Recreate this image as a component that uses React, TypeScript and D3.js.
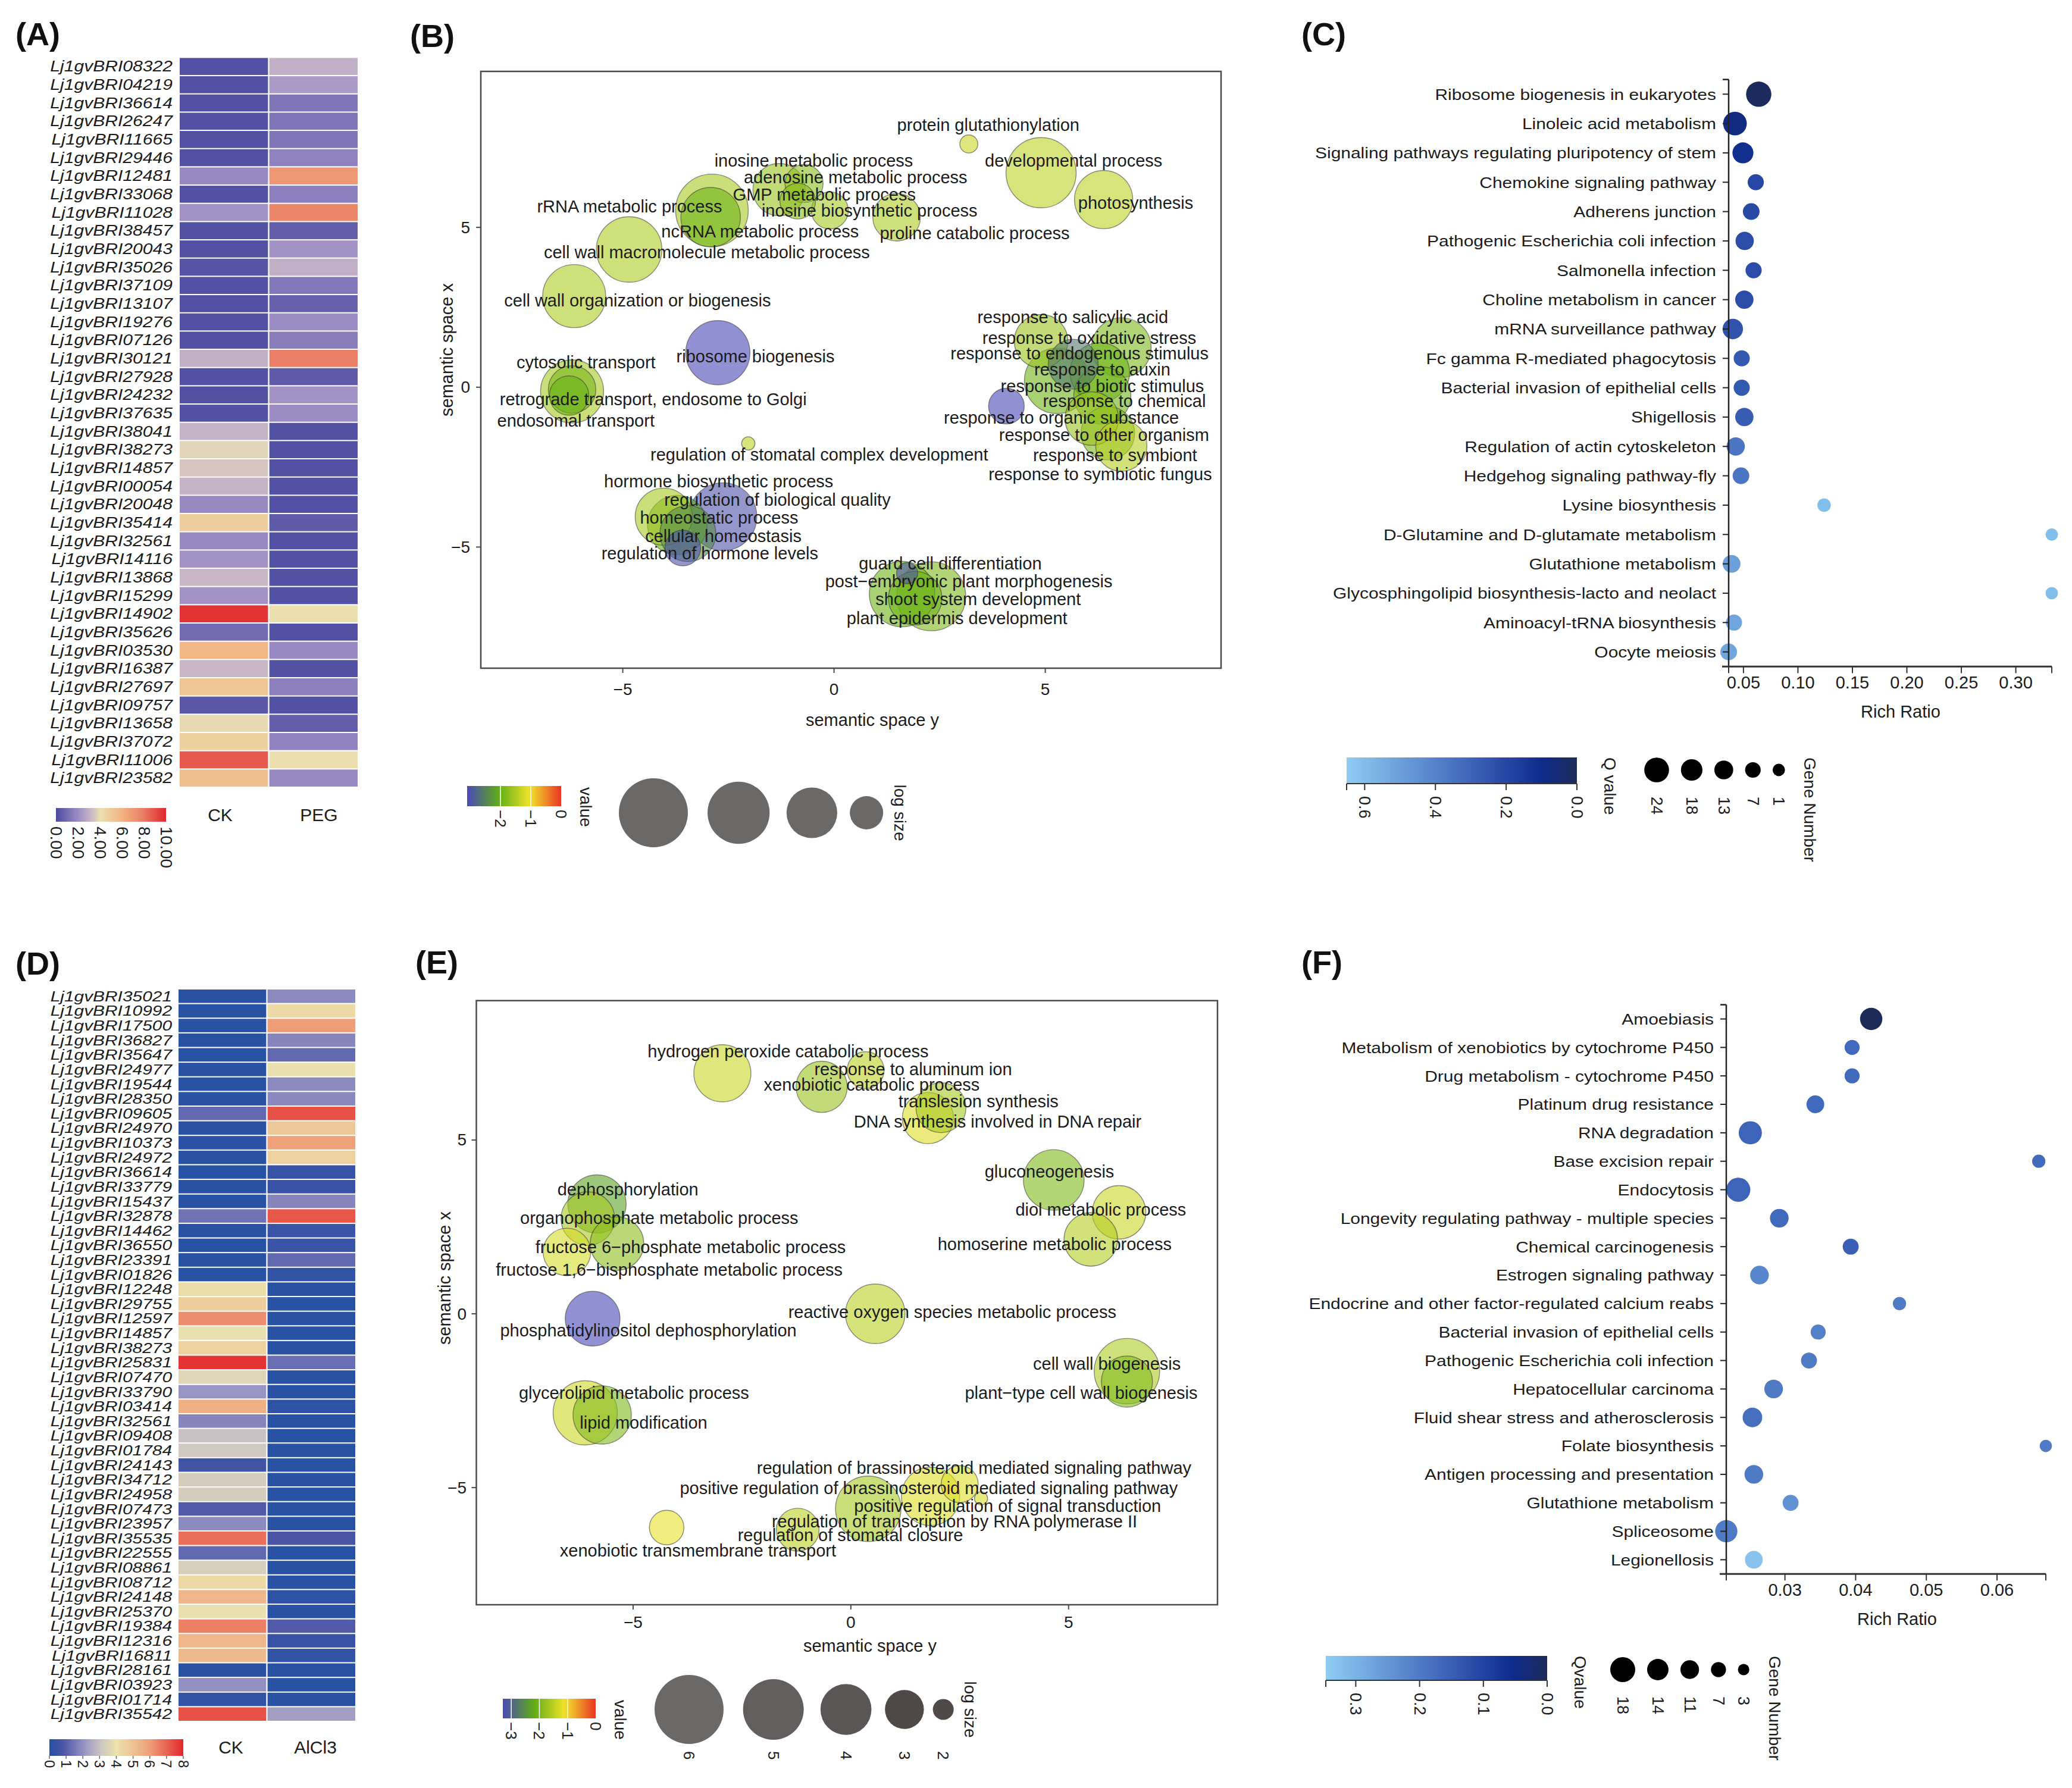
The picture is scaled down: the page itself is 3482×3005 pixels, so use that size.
import React from 'react';
import * as d3 from 'd3';

const FONT = "'Liberation Sans', Arial, Helvetica, sans-serif";
const INK = '#1b1b1b';

// ---------- (A) heatmap, CK vs PEG
const genesA = ['Lj1gvBRI08322', 'Lj1gvBRI04219', 'Lj1gvBRI36614', 'Lj1gvBRI26247', 'Lj1gvBRI11665', 'Lj1gvBRI29446', 'Lj1gvBRI12481', 'Lj1gvBRI33068', 'Lj1gvBRI11028', 'Lj1gvBRI38457', 'Lj1gvBRI20043', 'Lj1gvBRI35026', 'Lj1gvBRI37109', 'Lj1gvBRI13107', 'Lj1gvBRI19276', 'Lj1gvBRI07126', 'Lj1gvBRI30121', 'Lj1gvBRI27928', 'Lj1gvBRI24232', 'Lj1gvBRI37635', 'Lj1gvBRI38041', 'Lj1gvBRI38273', 'Lj1gvBRI14857', 'Lj1gvBRI00054', 'Lj1gvBRI20048', 'Lj1gvBRI35414', 'Lj1gvBRI32561', 'Lj1gvBRI14116', 'Lj1gvBRI13868', 'Lj1gvBRI15299', 'Lj1gvBRI14902', 'Lj1gvBRI35626', 'Lj1gvBRI03530', 'Lj1gvBRI16387', 'Lj1gvBRI27697', 'Lj1gvBRI09757', 'Lj1gvBRI13658', 'Lj1gvBRI37072', 'Lj1gvBRI11006', 'Lj1gvBRI23582'];
const ckA = [0.2, 0.2, 0.2, 0.2, 0.2, 0.2, 1.9, 0.2, 2.2, 0.2, 0.2, 0.3, 0.2, 0.2, 0.2, 0.2, 3.0, 0.2, 0.2, 0.2, 3.1, 3.8, 3.5, 3.1, 1.9, 4.8, 1.9, 2.2, 3.2, 2.2, 9.7, 1.0, 5.9, 3.2, 5.2, 0.4, 3.9, 4.7, 8.8, 5.5];
const pegA = [3.0, 2.4, 1.3, 1.3, 1.3, 1.7, 7.0, 1.6, 7.6, 0.6, 2.2, 3.0, 1.4, 0.7, 2.0, 1.5, 7.9, 0.5, 2.2, 2.0, 0.2, 0.2, 0.2, 0.2, 0.2, 0.5, 0.2, 0.2, 0.2, 0.2, 4.0, 0.2, 1.9, 0.2, 1.6, 0.2, 0.6, 1.7, 4.0, 1.9];
const heatTicksA = [0, 2, 4, 6, 8, 10];

// ---------- (D) heatmap, CK vs AlCl3
const genesD = ['Lj1gvBRI35021', 'Lj1gvBRI10992', 'Lj1gvBRI17500', 'Lj1gvBRI36827', 'Lj1gvBRI35647', 'Lj1gvBRI24977', 'Lj1gvBRI19544', 'Lj1gvBRI28350', 'Lj1gvBRI09605', 'Lj1gvBRI24970', 'Lj1gvBRI10373', 'Lj1gvBRI24972', 'Lj1gvBRI36614', 'Lj1gvBRI33779', 'Lj1gvBRI15437', 'Lj1gvBRI32878', 'Lj1gvBRI14462', 'Lj1gvBRI36550', 'Lj1gvBRI23391', 'Lj1gvBRI01826', 'Lj1gvBRI12248', 'Lj1gvBRI29755', 'Lj1gvBRI12597', 'Lj1gvBRI14857', 'Lj1gvBRI38273', 'Lj1gvBRI25831', 'Lj1gvBRI07470', 'Lj1gvBRI33790', 'Lj1gvBRI03414', 'Lj1gvBRI32561', 'Lj1gvBRI09408', 'Lj1gvBRI01784', 'Lj1gvBRI24143', 'Lj1gvBRI34712', 'Lj1gvBRI24958', 'Lj1gvBRI07473', 'Lj1gvBRI23957', 'Lj1gvBRI35535', 'Lj1gvBRI22555', 'Lj1gvBRI08861', 'Lj1gvBRI08712', 'Lj1gvBRI24148', 'Lj1gvBRI25370', 'Lj1gvBRI19384', 'Lj1gvBRI12316', 'Lj1gvBRI16811', 'Lj1gvBRI28161', 'Lj1gvBRI03923', 'Lj1gvBRI01714', 'Lj1gvBRI35542'];
const ckD = [0.1, 0.1, 0.1, 0.1, 0.1, 0.1, 0.1, 0.1, 1.2, 0.1, 0.15, 0.1, 0.1, 0.1, 0.1, 1.4, 0.1, 0.1, 0.1, 0.1, 4.2, 4.6, 6.3, 3.9, 4.5, 7.8, 3.6, 2.1, 5.5, 1.8, 3.0, 3.2, 0.6, 3.3, 3.3, 0.9, 1.9, 6.8, 1.2, 3.4, 4.3, 5.3, 3.9, 6.5, 5.3, 5.2, 0.1, 2.0, 0.3, 7.3];
const alD = [1.9, 4.3, 6.0, 1.8, 1.2, 3.9, 1.9, 1.85, 7.3, 4.8, 5.9, 4.5, 0.4, 0.4, 1.8, 7.2, 0.5, 0.5, 1.2, 0.3, 0.1, 0.1, 0.1, 0.1, 0.1, 1.3, 0.1, 0.1, 0.2, 0.1, 0.1, 0.1, 0.1, 0.1, 0.1, 0.1, 0.1, 0.8, 0.1, 0.1, 0.1, 0.2, 0.1, 0.9, 0.4, 0.3, 0.1, 0.1, 0.1, 2.3];
const heatTicksD = [0, 1, 2, 3, 4, 5, 6, 7, 8];

// ---------- (B) REVIGO bubbles, PEG
const termsB = ['protein glutathionylation', 'developmental process', 'photosynthesis', 'rRNA metabolic process', 'ncRNA metabolic process', 'inosine metabolic process', 'adenosine metabolic process', 'GMP metabolic process', 'inosine biosynthetic process', 'proline catabolic process', 'cell wall macromolecule metabolic process', 'cell wall organization or biogenesis', 'ribosome biogenesis', 'cytosolic transport', 'retrograde transport, endosome to Golgi', 'endosomal transport', 'regulation of stomatal complex development', 'hormone biosynthetic process', 'regulation of biological quality', 'homeostatic process', 'cellular homeostasis', 'regulation of hormone levels', 'response to salicylic acid', 'response to oxidative stress', 'response to endogenous stimulus', 'response to auxin', 'response to biotic stimulus', 'response to chemical', 'response to organic substance', 'response to other organism', 'response to symbiont', 'response to symbiotic fungus', 'guard cell differentiation', 'post\u2212embryonic plant morphogenesis', 'shoot system development', 'plant epidermis development'];
const xB = [3.19, 4.90, 6.38, -2.89, -2.92, -1.30, -0.71, -0.86, -0.10, 1.48, -4.85, -6.15, -2.75, -6.20, -6.20, -6.27, -2.03, -4.03, -2.63, -3.71, -3.46, -3.58, 4.90, 6.80, 5.66, 6.29, 5.28, 6.35, 4.08, 6.48, 6.80, 6.10, 1.73, 1.61, 2.30, 1.92];
const yB = [7.61, 6.71, 5.87, 5.53, 5.32, 6.18, 6.37, 5.82, 5.53, 5.32, 4.31, 2.85, 1.08, -0.13, -0.07, -0.26, -1.76, -4.05, -4.05, -4.31, -4.58, -5.03, 1.44, 1.24, 0.72, 0.46, 0.20, -0.26, -0.59, -1.44, -1.83, -0.98, -5.82, -6.47, -6.54, -6.60];
const sizeB = [1.57, 4.09, 3.25, 4.28, 3.33, 2.89, 2.19, 2.09, 2.14, 2.63, 3.74, 3.57, 3.65, 3.57, 2.63, 2.24, 1.49, 3.18, 3.91, 3.33, 3.10, 2.09, 2.96, 3.33, 2.76, 3.33, 3.74, 3.18, 2.09, 2.96, 2.83, 2.96, 1.64, 3.74, 4.0, 2.96];
const valueB = [-1.3, -1.4, -1.4, -1.55, -1.95, -1.65, -1.75, -1.75, -1.55, -1.5, -1.5, -1.5, -3.1, -1.55, -1.9, -2.0, -1.4, -1.55, -3.0, -2.05, -2.4, -3.0, -1.65, -1.85, -2.6, -1.95, -1.95, -1.95, -3.1, -1.85, -1.45, -1.65, -3.0, -1.95, -1.85, -1.95];
const labelXB = [3.65, 5.67, 7.14, -4.84, -1.75, -0.48, 0.51, -0.23, 0.84, 3.33, -3.01, -4.65, -1.86, -5.87, -4.28, -6.11, -0.35, -2.73, -1.34, -2.72, -2.62, -2.94, 5.65, 6.04, 5.81, 6.35, 6.35, 6.87, 5.38, 6.39, 6.65, 6.30, 2.75, 3.19, 3.41, 2.91];
const labelYB = [8.21, 7.08, 5.76, 5.65, 4.88, 7.08, 6.56, 6.03, 5.52, 4.81, 4.22, 2.72, 0.97, 0.77, -0.38, -1.05, -2.10, -2.94, -3.53, -4.08, -4.65, -5.20, 2.20, 1.54, 1.05, 0.55, 0.04, -0.44, -0.95, -1.50, -2.12, -2.72, -5.52, -6.08, -6.64, -7.22];
const legendSizeB = [4, 3.5, 2.8, 2];
const valueTicksB = [-2, -1, 0];

// ---------- (E) REVIGO bubbles, AlCl3
const termsE = ['hydrogen peroxide catabolic process', 'response to aluminum ion', 'xenobiotic catabolic process', 'translesion synthesis', 'DNA synthesis involved in DNA repair', 'gluconeogenesis', 'diol metabolic process', 'homoserine metabolic process', 'dephosphorylation', 'organophosphate metabolic process', 'fructose 6\u2212phosphate metabolic process', 'fructose 1,6\u2212bisphosphate metabolic process', 'phosphatidylinositol dephosphorylation', 'reactive oxygen species metabolic process', 'glycerolipid metabolic process', 'lipid modification', 'cell wall biogenesis', 'plant\u2212type cell wall biogenesis', 'xenobiotic transmembrane transport', 'regulation of stomatal closure', 'regulation of transcription by RNA polymerase II', 'positive regulation of signal transduction', 'regulation of brassinosteroid mediated signaling pathway', 'positive regulation of brassinosteroid mediated signaling pathway'];
const xE = [-2.95, 0.34, -0.67, 2.07, 1.77, 4.66, 6.16, 5.51, -5.83, -6.04, -5.37, -6.52, -5.93, 0.56, -6.10, -5.71, 6.34, 6.34, -4.23, -1.22, 0.40, 1.83, 2.50, 2.99];
const yE = [6.92, 7.01, 6.53, 5.93, 5.63, 3.85, 2.92, 2.14, 3.16, 2.74, 2.02, 1.78, -0.14, 0.0, -2.85, -2.91, -1.65, -1.95, -6.15, -6.21, -5.61, -5.25, -4.90, -5.31];
const sizeE = [4.61, 2.86, 4.02, 3.91, 4.02, 5.0, 4.25, 4.25, 4.74, 4.25, 4.25, 3.69, 4.37, 4.87, 5.41, 4.74, 5.56, 4.02, 2.70, 3.29, 5.56, 4.74, 2.86, 1.76];
const valueE = [-1.4, -1.5, -1.75, -1.65, -1.25, -1.95, -1.4, -1.55, -2.3, -1.65, -1.85, -1.3, -3.3, -1.5, -1.35, -1.95, -1.6, -1.95, -1.15, -1.5, -1.65, -1.25, -1.25, -1.3];
const labelXE = [-1.44, 1.43, 0.48, 2.93, 3.37, 4.56, 5.74, 4.68, -5.12, -4.40, -3.68, -4.17, -4.65, 2.33, -4.98, -4.76, 5.88, 5.29, -3.51, -0.01, 2.38, 3.60, 2.83, 1.79];
const labelYE = [7.55, 7.03, 6.59, 6.11, 5.53, 4.10, 3.00, 2.00, 3.58, 2.76, 1.92, 1.26, -0.47, 0.06, -2.28, -3.13, -1.44, -2.28, -6.81, -6.37, -5.97, -5.52, -4.44, -5.01];
const legendSizeE = [6, 5, 4, 3, 2];
const valueTicksE = [-3, -2, -1, 0];

// ---------- (C) KEGG enrichment, PEG
const pathwaysC = ['Ribosome biogenesis in eukaryotes', 'Linoleic acid metabolism', 'Signaling pathways regulating pluripotency of stem', 'Chemokine signaling pathway', 'Adherens junction', 'Pathogenic Escherichia coli infection', 'Salmonella infection', 'Choline metabolism in cancer', 'mRNA surveillance pathway', 'Fc gamma R-mediated phagocytosis', 'Bacterial invasion of epithelial cells', 'Shigellosis', 'Regulation of actin cytoskeleton', 'Hedgehog signaling pathway-fly', 'Lysine biosynthesis', 'D-Glutamine and D-glutamate metabolism', 'Glutathione metabolism', 'Glycosphingolipid biosynthesis-lacto and neolact', 'Aminoacyl-tRNA biosynthesis', 'Oocyte meiosis'];
const richC = [0.064, 0.0422, 0.0495, 0.0613, 0.0571, 0.0511, 0.0593, 0.0508, 0.0402, 0.0484, 0.0484, 0.0508, 0.0429, 0.0477, 0.124, 0.333, 0.0391, 0.333, 0.0413, 0.0364];
const qC = [0.01, 0.08, 0.12, 0.2, 0.21, 0.22, 0.22, 0.22, 0.24, 0.26, 0.26, 0.27, 0.36, 0.36, 0.6, 0.6, 0.5, 0.6, 0.52, 0.52];
const genesC = [25, 22, 17, 8, 9, 12, 8, 12, 16, 8, 8, 12, 12, 9, 3, 1, 11, 1, 8, 9];
const richTicksC = [0.05, 0.1, 0.15, 0.2, 0.25, 0.3];
const qTicksC = [0.6, 0.4, 0.2, 0.0];
const geneLegendC = [24, 18, 13, 7, 1];

// ---------- (F) KEGG enrichment, AlCl3
const pathwaysF = ['Amoebiasis', 'Metabolism of xenobiotics by cytochrome P450', 'Drug metabolism - cytochrome P450', 'Platinum drug resistance', 'RNA degradation', 'Base excision repair', 'Endocytosis', 'Longevity regulating pathway - multiple species', 'Chemical carcinogenesis', 'Estrogen signaling pathway', 'Endocrine and other factor-regulated calcium reabs', 'Bacterial invasion of epithelial cells', 'Pathogenic Escherichia coli infection', 'Hepatocellular carcinoma', 'Fluid shear stress and atherosclerosis', 'Folate biosynthesis', 'Antigen processing and presentation', 'Glutathione metabolism', 'Spliceosome', 'Legionellosis'];
const richF = [0.0422, 0.0395, 0.0395, 0.0343, 0.0251, 0.0659, 0.0234, 0.0292, 0.0393, 0.0264, 0.0462, 0.0347, 0.0334, 0.0284, 0.0254, 0.0669, 0.0256, 0.0308, 0.0217, 0.0256];
const qF = [0.0, 0.17, 0.17, 0.17, 0.16, 0.17, 0.16, 0.17, 0.15, 0.22, 0.2, 0.21, 0.2, 0.2, 0.18, 0.2, 0.2, 0.24, 0.2, 0.33];
const genesF = [15, 7, 7, 10, 16, 5, 17, 11, 8, 11, 5, 7, 8, 11, 12, 4, 11, 8, 15, 10];
const richTicksF = [0.03, 0.04, 0.05, 0.06];
const qTicksF = [0.3, 0.2, 0.1, 0.0];
const geneLegendF = [18, 14, 11, 7, 3];

// colour ramps
const heatColorA = d3.scaleLinear<string>()
  .domain([0, 2, 3.2, 4, 6, 8, 10])
  .range(['#4a4a9f', '#9c8cc4', '#c8b6c6', '#ebdfb0', '#f2b482', '#e97a63', '#e1272d'])
  .clamp(true);
const heatColorD = d3.scaleLinear<string>()
  .domain([0, 0.8, 2, 3, 4, 6, 8])
  .range(['#2451a3', '#4b55a6', '#9290c2', '#c9c2c4', '#ece3ad', '#ee9f78', '#e2282d'])
  .clamp(true);
const REVIGO = ['#4a48b8', '#5eac16', '#f0e42a', '#ea3323'];
const QCOL = ['#8ecdf3', '#3e64b9', '#0e2b8d', '#1d2b58'];
const QSTOPS = [1, 0.46, 0.155, 0];

const minus = (t: number) => (t < 0 ? `\u2212${-t}` : `${t}`);

function VLabel({ x, y, size, children, anchor = 'start', rot = 90 }: any) {
  return (
    <text transform={`translate(${x},${y}) rotate(${rot})`} fontSize={size} textAnchor={anchor}
      dominantBaseline="central" fill={INK}>{children}</text>
  );
}

// text drawn wider than tall, as the figure's labels are
function WideText({ x, y, size, sx, anchor, italic, children }: any) {
  return (
    <text transform={`translate(${x},${y}) scale(${sx},1)`} fontSize={size} textAnchor={anchor}
      fontStyle={italic ? 'italic' : 'normal'} dominantBaseline="central" fill={INK}>{children}</text>
  );
}

function Letter({ x, y, children }: any) {
  return <text x={x} y={y} fontSize={54} fontWeight="bold" fill="#111">{children}</text>;
}

function Heatmap({ id, genes, series, names, color, maxV, ticks, fmt, L }: any) {
  const y = d3.scaleBand().domain(genes).range([L.top, L.bottom]);
  const x = d3.scaleBand().domain(names).range([L.left, L.right]).paddingInner(0.015);
  const lx = d3.scaleLinear().domain([0, maxV]).range([L.legX0, L.legX1]);
  const stops = d3.range(0, 21).map(i => i / 20);
  return (
    <g>
      <defs>
        <linearGradient id={`heat-${id}`} x1="0" x2="1" y1="0" y2="0">
          {stops.map(t => <stop key={t} offset={t} stopColor={color(t * maxV)} />)}
        </linearGradient>
      </defs>
      {genes.map((g: string) => (
        <WideText key={g} x={L.labelX} y={(y(g) as number) + y.bandwidth() / 2} size={L.labelSize} sx={L.labelSx}
          anchor="end" italic>{g}</WideText>
      ))}
      {series.map((vals: number[], j: number) => vals.map((v, i) => (
        <rect key={`${j}-${i}`} x={x(names[j])} y={(y(genes[i]) as number) + 1} width={x.bandwidth()}
          height={y.bandwidth() - 2} fill={color(v)} />
      )))}
      <rect x={L.legX0} y={L.legY} width={L.legX1 - L.legX0} height={L.legH} fill={`url(#heat-${id})`} />
      {L.tickLen > 0 && ticks.map((t: number) => (
        <line key={t} x1={lx(t)} x2={lx(t)} y1={L.legY + L.legH} y2={L.legY + L.legH + L.tickLen} stroke="#666" strokeWidth={1.5} />
      ))}
      {ticks.map((t: number) => <VLabel key={t} x={lx(t)} y={L.tickY} size={L.tickSize}>{fmt(t)}</VLabel>)}
      {names.map((n: string, j: number) => (
        <text key={n} x={L.nameX[j]} y={L.nameY} fontSize={30} textAnchor="middle" fill={INK}>{n}</text>
      ))}
    </g>
  );
}

function Revigo({ id, terms, bx, by, size, value, lx, ly, L, vMin, rScale, legendSizes, legendLabels, legendFills, valueTicks }: any) {
  const x = d3.scaleLinear().domain(L.xDom).range([L.x0, L.x1]);
  const y = d3.scaleLinear().domain(L.yDom).range([L.y1, L.y0]);
  const color = d3.scaleLinear<string>().domain([vMin, vMin * 2 / 3, vMin / 3, 0]).range(REVIGO).clamp(true);
  const barX = d3.scaleLinear().domain([vMin, 0]).range([L.barX0, L.barX1]);
  const order = d3.range(terms.length).sort((a, b) => size[b] - size[a]);
  const ticks = [-5, 0, 5];
  const lr = legendSizes.map((s: number) => rScale(s));
  const lcx: number[] = [];
  lr.forEach((r: number, i: number) => {
    lcx.push(i === 0 ? L.sizeX0 : lcx[i - 1] + lr[i - 1] + r + 0.3 * (lr[i - 1] + r));
  });
  const stops = d3.range(0, 21).map(i => i / 20);
  return (
    <g>
      <defs>
        <linearGradient id={`val-${id}`} x1="0" x2="1" y1="0" y2="0">
          {stops.map(t => <stop key={t} offset={t} stopColor={color(vMin + t * (0 - vMin))} />)}
        </linearGradient>
      </defs>
      <rect x={L.x0} y={L.y0} width={L.x1 - L.x0} height={L.y1 - L.y0} fill="#fff" stroke="#4a4a4a" strokeWidth={2.5} />
      {ticks.map(t => (
        <g key={`x${t}`}>
          <line x1={x(t)} x2={x(t)} y1={L.y1} y2={L.y1 + 8} stroke="#4a4a4a" strokeWidth={2} />
          <text x={x(t)} y={L.xTickY} fontSize={28} textAnchor="middle" dominantBaseline="central" fill={INK}>{minus(t)}</text>
        </g>
      ))}
      {ticks.map(t => (
        <g key={`y${t}`}>
          <line x1={L.x0 - 8} x2={L.x0} y1={y(t)} y2={y(t)} stroke="#4a4a4a" strokeWidth={2} />
          <text x={L.yTickX} y={y(t)} fontSize={28} textAnchor="end" dominantBaseline="central" fill={INK}>{minus(t)}</text>
        </g>
      ))}
      {order.map(i => (
        <circle key={terms[i]} cx={x(bx[i])} cy={y(by[i])} r={rScale(size[i])} fill={color(value[i])}
          fillOpacity={0.6} stroke="#333" strokeOpacity={0.55} strokeWidth={1.4} />
      ))}
      {terms.map((t: string, i: number) => (
        <text key={`l-${t}`} x={x(lx[i])} y={y(ly[i])} fontSize={29} textAnchor="middle" dominantBaseline="central" fill={INK}>{t}</text>
      ))}
      <text x={L.xTitleX} y={L.xTitleY} fontSize={29} textAnchor="middle" dominantBaseline="central" fill={INK}>semantic space y</text>
      <VLabel x={L.yTitleX} y={L.yTitleY} size={29} anchor="middle" rot={-90}>semantic space x</VLabel>
      {/* legends */}
      <rect x={L.barX0} y={L.barY} width={L.barX1 - L.barX0} height={L.barH} fill={`url(#val-${id})`} />
      {valueTicks.map((t: number) => (
        <g key={`v${t}`}>
          {t !== 0 && <line x1={barX(t)} x2={barX(t)} y1={L.barY} y2={L.barY + L.barH} stroke="#fff" strokeWidth={1.5} />}
          <VLabel x={barX(t)} y={L.barY + L.barH + 6} size={26}>{minus(t)}</VLabel>
        </g>
      ))}
      <VLabel x={L.barX1 + 41} y={L.barY + 2} size={28}>value</VLabel>
      {legendSizes.map((s: number, i: number) => (
        <g key={`s${s}`}>
          <circle cx={lcx[i]} cy={L.sizeY} r={lr[i]} fill={legendFills[i]} />
          {legendLabels && <VLabel x={lcx[i]} y={L.sizeY + 70} size={26}>{legendLabels[i]}</VLabel>}
        </g>
      ))}
      <VLabel x={lcx[lcx.length - 1] + lr[lr.length - 1] + 28} y={L.sizeY} size={28} anchor="middle">log size</VLabel>
    </g>
  );
}

function DotPlot({ id, paths, rich, q, genes, L, qMax, qTicks, qTitle, geneDom, geneRange, geneLegend, xTicks }: any) {
  const x = d3.scaleLinear().domain(d3.extent(rich) as [number, number]).range([L.axisX, L.xEnd]);
  const y = d3.scaleBand().domain(paths).range([L.top, L.bottom]);
  const r = d3.scaleLinear().domain(geneDom).range(geneRange);
  const qc = d3.scaleLinear<string>().domain(QSTOPS.map(s => s * qMax)).range(QCOL).clamp(true);
  const qx = d3.scaleLinear().domain([qMax, 0]).range([L.qX0, L.qX1]);
  const fmt = d3.format('.2f');
  const fmtQ = d3.format('.1f');
  const stops = d3.range(0, 21).map(i => i / 20);
  const gr = geneLegend.map((g: number) => r(g));
  const gcx: number[] = [];
  gr.forEach((rr: number, i: number) => gcx.push(i === 0 ? L.gX0 : gcx[i - 1] + gr[i - 1] + rr + 20));
  const order = d3.range(paths.length).sort((a, b) => genes[b] - genes[a]);
  const endTicks = [...xTicks, ...x.domain()];
  return (
    <g>
      <defs>
        <linearGradient id={`q-${id}`} x1="0" x2="1" y1="0" y2="0">
          {stops.map(t => <stop key={t} offset={t} stopColor={qc(qMax * (1 - t))} />)}
        </linearGradient>
      </defs>
      {order.map(i => (
        <circle key={paths[i]} cx={x(rich[i])} cy={(y(paths[i]) as number) + y.bandwidth() / 2} r={r(genes[i])} fill={qc(q[i])} />
      ))}
      {/* y axis */}
      <line x1={L.axisX} x2={L.axisX} y1={L.top} y2={L.bottom} stroke="#222" strokeWidth={2.5} />
      <line x1={L.axisX - 10} x2={L.axisX} y1={L.top} y2={L.top} stroke="#222" strokeWidth={2.5} />
      {paths.map((p: string) => {
        const cy = (y(p) as number) + y.bandwidth() / 2;
        return (
          <g key={`t-${p}`}>
            <line x1={L.axisX - 10} x2={L.axisX} y1={cy} y2={cy} stroke="#222" strokeWidth={2} />
            <WideText x={L.axisX - 21} y={cy} size={26.5} sx={1.13} anchor="end">{p}</WideText>
          </g>
        );
      })}
      {/* x axis */}
      <line x1={L.axisX - 11} x2={L.xEnd} y1={L.bottom} y2={L.bottom} stroke="#333" strokeWidth={3} />
      {endTicks.map((t: number, i: number) => (
        <line key={`xt${i}`} x1={x(t)} x2={x(t)} y1={L.bottom} y2={L.bottom + 11} stroke="#333" strokeWidth={2} />
      ))}
      {xTicks.map((t: number) => (
        <text key={`xl${t}`} x={x(t)} y={L.bottom + 27} fontSize={29} textAnchor="middle" dominantBaseline="central" fill={INK}>{fmt(t)}</text>
      ))}
      <text x={L.titleX} y={L.bottom + 76} fontSize={29} textAnchor="middle" dominantBaseline="central" fill={INK}>Rich Ratio</text>
      {/* Q legend */}
      <rect x={L.qX0} y={L.qY} width={L.qX1 - L.qX0} height={L.qH} fill={`url(#q-${id})`} />
      <line x1={L.qX0} x2={L.qX1} y1={L.qY + L.qH} y2={L.qY + L.qH} stroke="#333" strokeWidth={2} />
      {[qMax, ...qTicks].map((t: number, i: number) => (
        <line key={`qt${i}`} x1={qx(t)} x2={qx(t)} y1={L.qY + L.qH} y2={L.qY + L.qH + 11} stroke="#333" strokeWidth={2} />
      ))}
      {qTicks.map((t: number) => (
        <VLabel key={`ql${t}`} x={qx(t)} y={L.qY + L.qH + 21} size={27}>{fmtQ(t)}</VLabel>
      ))}
      <VLabel x={L.qX1 + 55} y={L.qY} size={28}>{qTitle}</VLabel>
      {geneLegend.map((g: number, i: number) => (
        <g key={`g${g}`}>
          <circle cx={gcx[i]} cy={L.gY} r={gr[i]} fill="#000" />
          <VLabel x={gcx[i]} y={L.gY + 45} size={27}>{g}</VLabel>
        </g>
      ))}
      <VLabel x={gcx[gcx.length - 1] + 52} y={L.qY} size={28}>Gene Number</VLabel>
    </g>
  );
}

export default function App() {
  const rB = d3.scaleRadial().domain([2, 4]).range([28, 58]);
  const rE = d3.scaleRadial().domain([2, 6]).range([17.5, 58]);
  return (
    <svg width={3482} height={3005} viewBox="0 0 3482 3005" fontFamily={FONT}
      style={{ position: 'absolute', left: 0, top: 0, background: '#fff' }}>
      <rect width={3482} height={3005} fill="#fff" />

      <Letter x={26} y={76}>(A)</Letter>
      <Letter x={689} y={79}>(B)</Letter>
      <Letter x={2187} y={76}>(C)</Letter>
      <Letter x={26} y={1638}>(D)</Letter>
      <Letter x={698} y={1636}>(E)</Letter>
      <Letter x={2187} y={1636}>(F)</Letter>

      <Heatmap id="A" genes={genesA} series={[ckA, pegA]} names={['CK', 'PEG']} color={heatColorA} maxV={10}
        ticks={heatTicksA} fmt={d3.format('.2f')}
        L={{ top: 96.4, bottom: 1323, left: 302, right: 601, labelX: 290, labelSize: 25.5, labelSx: 1.18,
          legX0: 94, legX1: 279, legY: 1358, legH: 23,
          tickLen: 0, tickY: 1389, tickSize: 28, nameX: [370, 536], nameY: 1380 }} />

      <Heatmap id="D" genes={genesD} series={[ckD, alD]} names={['CK', 'AlCl3']} color={heatColorD} maxV={8}
        ticks={heatTicksD} fmt={d3.format('d')}
        L={{ top: 1662, bottom: 2893, left: 300, right: 597, labelX: 289, labelSize: 24.5, labelSx: 1.22,
          legX0: 83, legX1: 308, legY: 2923, legH: 28,
          tickLen: 5, tickY: 2958, tickSize: 24, nameX: [388, 530], nameY: 2947 }} />

      <Revigo id="B" terms={termsB} bx={xB} by={yB} size={sizeB} value={valueB} lx={labelXB} ly={labelYB}
        vMin={-3.1} rScale={rB} legendSizes={legendSizeB} legendLabels={null}
        legendFills={['#6b6868', '#6b6868', '#6b6868', '#6b6868']} valueTicks={valueTicksB}
        L={{ x0: 808, x1: 2052, y0: 120, y1: 1123, xDom: [-8.36, 9.16], yDom: [-8.79, 9.88],
          xTickY: 1158, yTickX: 790, xTitleX: 1466, xTitleY: 1210, yTitleX: 751, yTitleY: 588,
          barX0: 785, barX1: 943, barY: 1321, barH: 34, sizeX0: 1098, sizeY: 1366 }} />

      <Revigo id="E" terms={termsE} bx={xE} by={yE} size={sizeE} value={valueE} lx={labelXE} ly={labelYE}
        vMin={-3.3} rScale={rE} legendSizes={legendSizeE} legendLabels={legendSizeE.map(String)}
        legendFills={['#6b6868', '#625e5d', '#5a5655', '#4f4a48', '#4f4a48']} valueTicks={valueTicksE}
        L={{ x0: 800.5, x1: 2046, y0: 1681.7, y1: 2697, xDom: [-8.6, 8.42], yDom: [-8.37, 9.01],
          xTickY: 2726, yTickX: 784, xTitleX: 1462, xTitleY: 2766, yTitleX: 747, yTitleY: 2148,
          barX0: 845, barX1: 1001, barY: 2855, barH: 33, sizeX0: 1158, sizeY: 2873 }} />

      <DotPlot id="C" paths={pathwaysC} rich={richC} q={qC} genes={genesC} qMax={0.651} qTicks={qTicksC} qTitle="Q value"
        geneDom={[1, 24]} geneRange={[10.4, 20.8]} geneLegend={geneLegendC} xTicks={richTicksC}
        L={{ axisX: 2905, xEnd: 3448, top: 133.6, bottom: 1120.3, titleX: 3194,
          qX0: 2263, qX1: 2650, qY: 1273, qH: 44, gX0: 2784, gY: 1294 }} />

      <DotPlot id="F" paths={pathwaysF} rich={richF} q={qF} genes={genesF} qMax={0.347} qTicks={qTicksF} qTitle="Qvalue"
        geneDom={[3, 18]} geneRange={[9.6, 21]} geneLegend={geneLegendF} xTicks={richTicksF}
        L={{ axisX: 2901, xEnd: 3438, top: 1688.6, bottom: 2645.3, titleX: 3188,
          qX0: 2228, qX1: 2600, qY: 2783, qH: 41, gX0: 2727, gY: 2806 }} />
    </svg>
  );
}
